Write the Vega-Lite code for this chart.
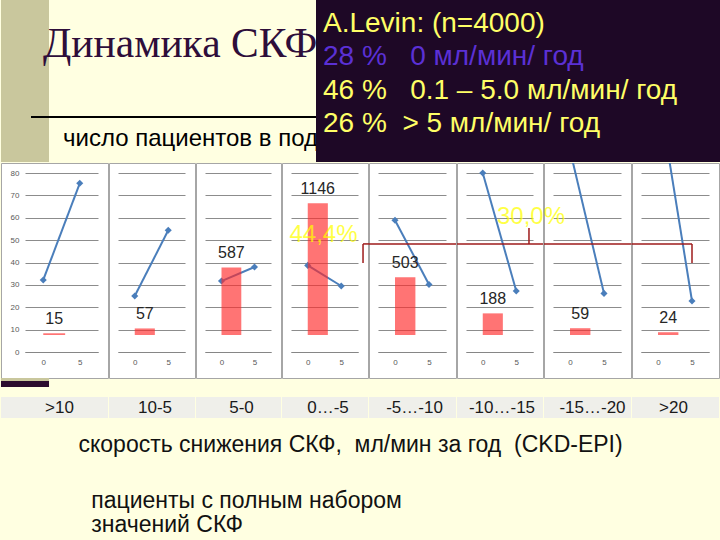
{
  "$schema": "https://vega.github.io/schema/vega-lite/v6.json",
  "background": "#FFFFE1",
  "padding": {"left": 0, "top": 0, "right": 0, "bottom": 5},
  "autosize": {"type": "pad"},
  "config": {
    "font": "Liberation Sans",
    "view": {"stroke": null},
    "axis": {"labelFont": "Liberation Sans", "titleFont": "Liberation Sans"}
  },
  "datasets": {
    "gfr": [
      {"cat": ">10", "year": 0, "gfr": 32.2}, {"cat": ">10", "year": 5, "gfr": 75.4},
      {"cat": "10-5", "year": 0, "gfr": 25.0}, {"cat": "10-5", "year": 5, "gfr": 54.4},
      {"cat": "5-0", "year": 0, "gfr": 31.7}, {"cat": "5-0", "year": 5, "gfr": 38.0},
      {"cat": "0…-5", "year": 0, "gfr": 38.7}, {"cat": "0…-5", "year": 5, "gfr": 29.5},
      {"cat": "-5…-10", "year": 0, "gfr": 58.9}, {"cat": "-5…-10", "year": 5, "gfr": 30.2},
      {"cat": "-10…-15", "year": 0, "gfr": 80.0}, {"cat": "-10…-15", "year": 5, "gfr": 27.3},
      {"cat": "-15…-20", "year": 0, "gfr": 90.2}, {"cat": "-15…-20", "year": 5, "gfr": 26.2},
      {"cat": ">20", "year": 0, "gfr": 117}, {"cat": ">20", "year": 5, "gfr": 22.8}
    ],
    "patients": [
      {"cat": ">10", "n": 15}, {"cat": "10-5", "n": 57}, {"cat": "5-0", "n": 587}, {"cat": "0…-5", "n": 1146},
      {"cat": "-5…-10", "n": 503}, {"cat": "-10…-15", "n": 188}, {"cat": "-15…-20", "n": 59}, {"cat": ">20", "n": 24}
    ],
    "shares": [
      {"group": "0…-5", "share": "44,4%"},
      {"group": "-5…-10 … >20", "share": "30,0%"}
    ],
    "levin": [
      {"study": "A.Levin", "line": "A.Levin: (n=4000)", "kind": "header"},
      {"study": "A.Levin", "line": "28 %\u00a0\u00a0 0 мл/мин/ год", "kind": "stable"},
      {"study": "A.Levin", "line": "46 %\u00a0\u00a0 0.1 – 5.0 мл/мин/ год", "kind": "slow"},
      {"study": "A.Levin", "line": "26 %\u00a0 > 5 мл/мин/ год", "kind": "fast"}
    ]
  },
  "spacing": 0,
  "bounds": "full",
  "vconcat": [
    {
      "spacing": 0,
      "bounds": "flush",
      "hconcat": [
        {
          "width": 315,
          "height": 162,
          "view": {
            "stroke": null,
            "fill": {"gradient": "linear", "x1": 0, "y1": 0, "x2": 1, "y2": 0,
              "stops": [
                {"offset": 0, "color": "#C9C79D"}, {"offset": 0.1524, "color": "#C9C79D"},
                {"offset": 0.1524, "color": "#FFFFE1"}, {"offset": 1, "color": "#FFFFE1"}
              ]}
          },
          "title": {
            "text": "Динамика СКФ",
            "subtitle": "\u200b\u00a0\u00a0\u00a0число пациентов в под",
            "orient": "top", "anchor": "start", "frame": "group",
            "offset": -150.8, "dx": 42,
            "font": "Liberation Serif", "fontSize": 41.5, "fontWeight": "normal", "color": "#2E0E3A",
            "subtitleFont": "Liberation Sans", "subtitleFontSize": 24, "subtitleColor": "#000000", "subtitlePadding": 61
          },
          "data": {"values": [{"underline": "title rule"}]},
          "mark": {"type": "rule", "color": "#000000", "strokeWidth": 2, "strokeDash": [285, 400]},
          "encoding": {
            "y": {"datum": 0.2778, "scale": {"domain": [0, 1], "nice": false, "zero": false}, "axis": null}
          }
        },
        {
          "width": 405,
          "height": 162,
          "view": {"stroke": null, "fill": "#1E0826"},
          "data": {"name": "levin"},
          "mark": {"type": "text", "align": "left", "baseline": "alphabetic", "font": "Liberation Sans", "fontSize": 28, "dx": 7},
          "encoding": {
            "x": {"field": "study", "type": "nominal", "scale": {"type": "point", "padding": 0, "align": 0}, "axis": null},
            "y": {"field": "line", "type": "nominal", "sort": null, "scale": {"type": "point", "padding": 0.918, "align": 0.52}, "axis": null},
            "text": {"field": "line"},
            "color": {"field": "kind", "type": "nominal", "scale": {"domain": ["header", "stable", "slow", "fast"], "range": ["#FFFF66", "#5B30D5", "#FFFF66", "#FFFF66"]}, "legend": null}
          }
        }
      ]
    },
    {
      "spacing": 1,
      "bounds": "flush",
      "title": {
        "text": "скорость снижения СКФ,\u00a0 мл/мин за год\u00a0 (CKD-EPI)",
        "subtitle": ["\u200b\u00a0\u00a0пациенты с полным набором", "\u200b\u00a0\u00a0значений СКФ"],
        "orient": "bottom", "anchor": "start", "frame": "bounds",
        "dx": 78, "offset": 15,
        "font": "Liberation Sans", "fontSize": 23, "fontWeight": "normal", "color": "#111111",
        "subtitleFont": "Liberation Sans", "subtitleFontSize": 23, "subtitleColor": "#111111",
        "subtitlePadding": 33, "subtitleLineHeight": 24
      },
      "hconcat": [
        {
          "width": 107, "height": 215,
          "view": {"fill": "#FFFFFF", "stroke": "#A6A6A6", "strokeWidth": 1},
          "resolve": {"scale": {"y": "independent"}},
          "layer": [
            {
              "data": {"name": "patients"}, "transform": [{"filter": "datum.cat === '>10'"}],
              "layer": [
                {"mark": {"type": "rect", "color": "#EFEFEA"}, "encoding": {"y": {"datum": -20.1, "scale": {"domain": [0, 80], "range": [189, 10], "nice": false, "zero": false}, "axis": null}, "y2": {"datum": -29.5}}},
                {"mark": {"type": "text", "fontSize": 17, "color": "#1A1A1A", "baseline": "middle", "dx": 5}, "encoding": {"y": {"datum": -25.25, "scale": {"domain": [0, 80], "range": [189, 10], "nice": false, "zero": false}, "axis": null}, "text": {"field": "cat"}}},
                {"mark": {"type": "rect", "color": "#C9C79D"}, "encoding": {"x": {"datum": -5.79}, "x2": {"datum": 0.79}, "y": {"datum": -11.6, "scale": {"domain": [0, 80], "range": [189, 10], "nice": false, "zero": false}, "axis": null}, "y2": {"datum": -13.0}}},
                {"mark": {"type": "rect", "color": "#2B0B2E"}, "encoding": {"x": {"datum": -5.79}, "x2": {"datum": 0.79}, "y": {"datum": -13.0, "scale": {"domain": [0, 80], "range": [189, 10], "nice": false, "zero": false}, "axis": null}, "y2": {"datum": -15.6}}}
              ]
            },
            {
              "data": {"name": "gfr"}, "transform": [{"filter": "datum.cat === '>10'"}],
              "mark": {"type": "line", "color": "#4A7EBB", "strokeWidth": 2, "clip": true, "point": {"shape": "diamond", "size": 50, "filled": true, "color": "#4A7EBB"}},
              "encoding": {
                "x": {"field": "year", "type": "quantitative", "scale": {"domain": [-2.5, 7.5], "range": [24, 97], "nice": false, "zero": false},
                  "axis": {"values": [0, 5], "format": "d", "offset": -26, "domainColor": "#868686", "ticks": false, "labelFontSize": 8, "labelColor": "#595959", "labelPadding": 6, "title": null, "grid": false, "labelFlush": false, "labelOverlap": false}},
                "y": {"field": "gfr", "type": "quantitative", "scale": {"domain": [0, 80], "range": [189, 10], "nice": false, "zero": false},
                  "axis": {"values": [0, 10, 20, 30, 40, 50, 60, 70, 80], "grid": true, "gridColor": "#8C8C8C", "gridWidth": 1, "domain": false, "ticks": false, "labels": true, "labelFontSize": 8, "labelColor": "#595959", "offset": -21, "labelPadding": 3, "title": null}}
              }
            },
            {
              "data": {"name": "patients"}, "transform": [{"filter": "datum.cat === '>10'"}],
              "layer": [
                {"mark": {"type": "rect", "color": "#FF2A2A", "opacity": 0.65}, "encoding": {"x": {"datum": 0}, "x2": {"datum": 3}, "y": {"field": "n", "type": "quantitative", "scale": {"domain": [0, 1200], "range": [172, 34], "nice": false, "zero": false}, "axis": null}, "y2": {"datum": 0}}},
                {"mark": {"type": "text", "fontSize": 16, "color": "#262626", "baseline": "alphabetic", "dy": -9}, "encoding": {"x": {"datum": 1.5}, "y": {"field": "n", "type": "quantitative", "scale": {"domain": [0, 1200], "range": [172, 34], "nice": false, "zero": false}, "axis": null}, "text": {"field": "n", "type": "quantitative", "format": "d"}}}
              ]
            }
          ]
        },
        {
          "width": 86, "height": 215,
          "view": {"fill": "#FFFFFF", "stroke": "#A6A6A6", "strokeWidth": 1},
          "resolve": {"scale": {"y": "independent"}},
          "layer": [
            {
              "data": {"name": "patients"}, "transform": [{"filter": "datum.cat === '10-5'"}],
              "layer": [
                {"mark": {"type": "rect", "color": "#EFEFEA"}, "encoding": {"y": {"datum": -20.1, "scale": {"domain": [0, 80], "range": [189, 10], "nice": false, "zero": false}, "axis": null}, "y2": {"datum": -29.5}}},
                {"mark": {"type": "text", "fontSize": 17, "color": "#1A1A1A", "baseline": "middle", "dx": 3}, "encoding": {"y": {"datum": -25.25, "scale": {"domain": [0, 80], "range": [189, 10], "nice": false, "zero": false}, "axis": null}, "text": {"field": "cat"}}}
              ]
            },
            {
              "data": {"name": "gfr"}, "transform": [{"filter": "datum.cat === '10-5'"}],
              "mark": {"type": "line", "color": "#4A7EBB", "strokeWidth": 2, "clip": true, "point": {"shape": "diamond", "size": 50, "filled": true, "color": "#4A7EBB"}},
              "encoding": {
                "x": {"field": "year", "type": "quantitative", "scale": {"domain": [-2.5, 7.5], "range": [9, 76], "nice": false, "zero": false},
                  "axis": {"values": [0, 5], "format": "d", "offset": -26, "domainColor": "#868686", "ticks": false, "labelFontSize": 8, "labelColor": "#595959", "labelPadding": 6, "title": null, "grid": false, "labelFlush": false, "labelOverlap": false}},
                "y": {"field": "gfr", "type": "quantitative", "scale": {"domain": [0, 80], "range": [189, 10], "nice": false, "zero": false},
                  "axis": {"values": [0, 10, 20, 30, 40, 50, 60, 70, 80], "grid": true, "gridColor": "#8C8C8C", "gridWidth": 1, "domain": false, "ticks": false, "labels": false, "title": null}}
              }
            },
            {
              "data": {"name": "patients"}, "transform": [{"filter": "datum.cat === '10-5'"}],
              "layer": [
                {"mark": {"type": "rect", "color": "#FF2A2A", "opacity": 0.65}, "encoding": {"x": {"datum": 0}, "x2": {"datum": 3}, "y": {"field": "n", "type": "quantitative", "scale": {"domain": [0, 1200], "range": [172, 34], "nice": false, "zero": false}, "axis": null}, "y2": {"datum": 0}}},
                {"mark": {"type": "text", "fontSize": 16, "color": "#262626", "baseline": "alphabetic", "dy": -9}, "encoding": {"x": {"datum": 1.5}, "y": {"field": "n", "type": "quantitative", "scale": {"domain": [0, 1200], "range": [172, 34], "nice": false, "zero": false}, "axis": null}, "text": {"field": "n", "type": "quantitative", "format": "d"}}}
              ]
            }
          ]
        },
        {
          "width": 85, "height": 215,
          "view": {"fill": "#FFFFFF", "stroke": "#A6A6A6", "strokeWidth": 1},
          "resolve": {"scale": {"y": "independent"}},
          "layer": [
            {
              "data": {"name": "patients"}, "transform": [{"filter": "datum.cat === '5-0'"}],
              "layer": [
                {"mark": {"type": "rect", "color": "#EFEFEA"}, "encoding": {"y": {"datum": -20.1, "scale": {"domain": [0, 80], "range": [189, 10], "nice": false, "zero": false}, "axis": null}, "y2": {"datum": -29.5}}},
                {"mark": {"type": "text", "fontSize": 17, "color": "#1A1A1A", "baseline": "middle", "dx": 3}, "encoding": {"y": {"datum": -25.25, "scale": {"domain": [0, 80], "range": [189, 10], "nice": false, "zero": false}, "axis": null}, "text": {"field": "cat"}}}
              ]
            },
            {
              "data": {"name": "gfr"}, "transform": [{"filter": "datum.cat === '5-0'"}],
              "mark": {"type": "line", "color": "#4A7EBB", "strokeWidth": 2, "clip": true, "point": {"shape": "diamond", "size": 50, "filled": true, "color": "#4A7EBB"}},
              "encoding": {
                "x": {"field": "year", "type": "quantitative", "scale": {"domain": [-2.5, 7.5], "range": [9, 75], "nice": false, "zero": false},
                  "axis": {"values": [0, 5], "format": "d", "offset": -26, "domainColor": "#868686", "ticks": false, "labelFontSize": 8, "labelColor": "#595959", "labelPadding": 6, "title": null, "grid": false, "labelFlush": false, "labelOverlap": false}},
                "y": {"field": "gfr", "type": "quantitative", "scale": {"domain": [0, 80], "range": [189, 10], "nice": false, "zero": false},
                  "axis": {"values": [0, 10, 20, 30, 40, 50, 60, 70, 80], "grid": true, "gridColor": "#8C8C8C", "gridWidth": 1, "domain": false, "ticks": false, "labels": false, "title": null}}
              }
            },
            {
              "data": {"name": "patients"}, "transform": [{"filter": "datum.cat === '5-0'"}],
              "layer": [
                {"mark": {"type": "rect", "color": "#FF2A2A", "opacity": 0.65}, "encoding": {"x": {"datum": 0}, "x2": {"datum": 3}, "y": {"field": "n", "type": "quantitative", "scale": {"domain": [0, 1200], "range": [172, 34], "nice": false, "zero": false}, "axis": null}, "y2": {"datum": 0}}},
                {"mark": {"type": "text", "fontSize": 16, "color": "#262626", "baseline": "alphabetic", "dy": -9}, "encoding": {"x": {"datum": 1.5}, "y": {"field": "n", "type": "quantitative", "scale": {"domain": [0, 1200], "range": [172, 34], "nice": false, "zero": false}, "axis": null}, "text": {"field": "n", "type": "quantitative", "format": "d"}}}
              ]
            }
          ]
        },
        {
          "width": 86, "height": 215,
          "view": {"fill": "#FFFFFF", "stroke": "#A6A6A6", "strokeWidth": 1},
          "resolve": {"scale": {"y": "independent"}},
          "layer": [
            {
              "data": {"name": "patients"}, "transform": [{"filter": "datum.cat === '0…-5'"}],
              "layer": [
                {"mark": {"type": "rect", "color": "#EFEFEA"}, "encoding": {"y": {"datum": -20.1, "scale": {"domain": [0, 80], "range": [189, 10], "nice": false, "zero": false}, "axis": null}, "y2": {"datum": -29.5}}},
                {"mark": {"type": "text", "fontSize": 17, "color": "#1A1A1A", "baseline": "middle", "dx": 3}, "encoding": {"y": {"datum": -25.25, "scale": {"domain": [0, 80], "range": [189, 10], "nice": false, "zero": false}, "axis": null}, "text": {"field": "cat"}}}
              ]
            },
            {
              "data": {"name": "gfr"}, "transform": [{"filter": "datum.cat === '0…-5'"}],
              "mark": {"type": "line", "color": "#4A7EBB", "strokeWidth": 2, "clip": true, "point": {"shape": "diamond", "size": 50, "filled": true, "color": "#4A7EBB"}},
              "encoding": {
                "x": {"field": "year", "type": "quantitative", "scale": {"domain": [-2.5, 7.5], "range": [9, 76], "nice": false, "zero": false},
                  "axis": {"values": [0, 5], "format": "d", "offset": -26, "domainColor": "#868686", "ticks": false, "labelFontSize": 8, "labelColor": "#595959", "labelPadding": 6, "title": null, "grid": false, "labelFlush": false, "labelOverlap": false}},
                "y": {"field": "gfr", "type": "quantitative", "scale": {"domain": [0, 80], "range": [189, 10], "nice": false, "zero": false},
                  "axis": {"values": [0, 10, 20, 30, 40, 50, 60, 70, 80], "grid": true, "gridColor": "#8C8C8C", "gridWidth": 1, "domain": false, "ticks": false, "labels": false, "title": null}}
              }
            },
            {
              "data": {"name": "patients"}, "transform": [{"filter": "datum.cat === '0…-5'"}],
              "layer": [
                {"mark": {"type": "rect", "color": "#FF2A2A", "opacity": 0.65}, "encoding": {"x": {"datum": 0}, "x2": {"datum": 3}, "y": {"field": "n", "type": "quantitative", "scale": {"domain": [0, 1200], "range": [172, 34], "nice": false, "zero": false}, "axis": null}, "y2": {"datum": 0}}},
                {"mark": {"type": "text", "fontSize": 16, "color": "#262626", "baseline": "alphabetic", "dy": -9}, "encoding": {"x": {"datum": 1.5}, "y": {"field": "n", "type": "quantitative", "scale": {"domain": [0, 1200], "range": [172, 34], "nice": false, "zero": false}, "axis": null}, "text": {"field": "n", "type": "quantitative", "format": "d"}}}
              ]
            },
            {
              "data": {"name": "shares"}, "transform": [{"filter": "datum.group === '0…-5'"}],
              "mark": {"type": "text", "fontSize": 24, "color": "#FFFF00", "opacity": 0.72, "baseline": "middle"},
              "encoding": {"x": {"datum": 2.35}, "y": {"datum": 52.5, "scale": {"domain": [0, 80], "range": [189, 10], "nice": false, "zero": false}, "axis": null}, "text": {"field": "share"}}
            },
            {
              "data": {"name": "shares"}, "transform": [{"filter": "datum.group !== '0…-5'"}],
              "layer": [
                {"mark": {"type": "rule", "color": "#9E1B1B", "strokeWidth": 1.5}, "encoding": {"x": {"datum": 8.25}, "x2": {"datum": 9.3}, "y": {"datum": 48.3, "scale": {"domain": [0, 80], "range": [189, 10], "nice": false, "zero": false}, "axis": null}}},
                {"mark": {"type": "rule", "color": "#9E1B1B", "strokeWidth": 1.5}, "encoding": {"x": {"datum": 8.25}, "y": {"datum": 48.3, "scale": {"domain": [0, 80], "range": [189, 10], "nice": false, "zero": false}, "axis": null}, "y2": {"datum": 39.8}}}
              ]
            }
          ]
        },
        {
          "width": 87, "height": 215,
          "view": {"fill": "#FFFFFF", "stroke": "#A6A6A6", "strokeWidth": 1},
          "resolve": {"scale": {"y": "independent"}},
          "layer": [
            {
              "data": {"name": "patients"}, "transform": [{"filter": "datum.cat === '-5…-10'"}],
              "layer": [
                {"mark": {"type": "rect", "color": "#EFEFEA"}, "encoding": {"y": {"datum": -20.1, "scale": {"domain": [0, 80], "range": [189, 10], "nice": false, "zero": false}, "axis": null}, "y2": {"datum": -29.5}}},
                {"mark": {"type": "text", "fontSize": 17, "color": "#1A1A1A", "baseline": "middle", "dx": 2}, "encoding": {"y": {"datum": -25.25, "scale": {"domain": [0, 80], "range": [189, 10], "nice": false, "zero": false}, "axis": null}, "text": {"field": "cat"}}}
              ]
            },
            {
              "data": {"name": "gfr"}, "transform": [{"filter": "datum.cat === '-5…-10'"}],
              "mark": {"type": "line", "color": "#4A7EBB", "strokeWidth": 2, "clip": true, "point": {"shape": "diamond", "size": 50, "filled": true, "color": "#4A7EBB"}},
              "encoding": {
                "x": {"field": "year", "type": "quantitative", "scale": {"domain": [-2.5, 7.5], "range": [9, 77], "nice": false, "zero": false},
                  "axis": {"values": [0, 5], "format": "d", "offset": -26, "domainColor": "#868686", "ticks": false, "labelFontSize": 8, "labelColor": "#595959", "labelPadding": 6, "title": null, "grid": false, "labelFlush": false, "labelOverlap": false}},
                "y": {"field": "gfr", "type": "quantitative", "scale": {"domain": [0, 80], "range": [189, 10], "nice": false, "zero": false},
                  "axis": {"values": [0, 10, 20, 30, 40, 50, 60, 70, 80], "grid": true, "gridColor": "#8C8C8C", "gridWidth": 1, "domain": false, "ticks": false, "labels": false, "title": null}}
              }
            },
            {
              "data": {"name": "patients"}, "transform": [{"filter": "datum.cat === '-5…-10'"}],
              "layer": [
                {"mark": {"type": "rect", "color": "#FF2A2A", "opacity": 0.65}, "encoding": {"x": {"datum": 0}, "x2": {"datum": 3}, "y": {"field": "n", "type": "quantitative", "scale": {"domain": [0, 1200], "range": [172, 34], "nice": false, "zero": false}, "axis": null}, "y2": {"datum": 0}}},
                {"mark": {"type": "text", "fontSize": 16, "color": "#262626", "baseline": "alphabetic", "dy": -9}, "encoding": {"x": {"datum": 1.5}, "y": {"field": "n", "type": "quantitative", "scale": {"domain": [0, 1200], "range": [172, 34], "nice": false, "zero": false}, "axis": null}, "text": {"field": "n", "type": "quantitative", "format": "d"}}}
              ]
            },
            {
              "data": {"name": "shares"}, "transform": [{"filter": "datum.group !== '0…-5'"}],
              "mark": {"type": "rule", "color": "#9E1B1B", "strokeWidth": 1.5},
              "encoding": {"y": {"datum": 48.3, "scale": {"domain": [0, 80], "range": [189, 10], "nice": false, "zero": false}, "axis": null}}
            }
          ]
        },
        {
          "width": 86, "height": 215,
          "view": {"fill": "#FFFFFF", "stroke": "#A6A6A6", "strokeWidth": 1},
          "resolve": {"scale": {"y": "independent"}},
          "layer": [
            {
              "data": {"name": "patients"}, "transform": [{"filter": "datum.cat === '-10…-15'"}],
              "layer": [
                {"mark": {"type": "rect", "color": "#EFEFEA"}, "encoding": {"y": {"datum": -20.1, "scale": {"domain": [0, 80], "range": [189, 10], "nice": false, "zero": false}, "axis": null}, "y2": {"datum": -29.5}}},
                {"mark": {"type": "text", "fontSize": 17, "color": "#1A1A1A", "baseline": "middle", "dx": 2}, "encoding": {"y": {"datum": -25.25, "scale": {"domain": [0, 80], "range": [189, 10], "nice": false, "zero": false}, "axis": null}, "text": {"field": "cat"}}}
              ]
            },
            {
              "data": {"name": "gfr"}, "transform": [{"filter": "datum.cat === '-10…-15'"}],
              "mark": {"type": "line", "color": "#4A7EBB", "strokeWidth": 2, "clip": true, "point": {"shape": "diamond", "size": 50, "filled": true, "color": "#4A7EBB"}},
              "encoding": {
                "x": {"field": "year", "type": "quantitative", "scale": {"domain": [-2.5, 7.5], "range": [9, 76], "nice": false, "zero": false},
                  "axis": {"values": [0, 5], "format": "d", "offset": -26, "domainColor": "#868686", "ticks": false, "labelFontSize": 8, "labelColor": "#595959", "labelPadding": 6, "title": null, "grid": false, "labelFlush": false, "labelOverlap": false}},
                "y": {"field": "gfr", "type": "quantitative", "scale": {"domain": [0, 80], "range": [189, 10], "nice": false, "zero": false},
                  "axis": {"values": [0, 10, 20, 30, 40, 50, 60, 70, 80], "grid": true, "gridColor": "#8C8C8C", "gridWidth": 1, "domain": false, "ticks": false, "labels": false, "title": null}}
              }
            },
            {
              "data": {"name": "patients"}, "transform": [{"filter": "datum.cat === '-10…-15'"}],
              "layer": [
                {"mark": {"type": "rect", "color": "#FF2A2A", "opacity": 0.65}, "encoding": {"x": {"datum": 0}, "x2": {"datum": 3}, "y": {"field": "n", "type": "quantitative", "scale": {"domain": [0, 1200], "range": [172, 34], "nice": false, "zero": false}, "axis": null}, "y2": {"datum": 0}}},
                {"mark": {"type": "text", "fontSize": 16, "color": "#262626", "baseline": "alphabetic", "dy": -9}, "encoding": {"x": {"datum": 1.5}, "y": {"field": "n", "type": "quantitative", "scale": {"domain": [0, 1200], "range": [172, 34], "nice": false, "zero": false}, "axis": null}, "text": {"field": "n", "type": "quantitative", "format": "d"}}}
              ]
            },
            {
              "data": {"name": "shares"}, "transform": [{"filter": "datum.group !== '0…-5'"}],
              "layer": [
                {"mark": {"type": "rule", "color": "#9E1B1B", "strokeWidth": 1.5}, "encoding": {"y": {"datum": 48.3, "scale": {"domain": [0, 80], "range": [189, 10], "nice": false, "zero": false}, "axis": null}}},
                {"mark": {"type": "rule", "color": "#9E1B1B", "strokeWidth": 1.5}, "encoding": {"x": {"datum": 6.9}, "y": {"datum": 48.3, "scale": {"domain": [0, 80], "range": [189, 10], "nice": false, "zero": false}, "axis": null}, "y2": {"datum": 55.4}}}
              ]
            }
          ]
        },
        {
          "width": 87, "height": 215,
          "view": {"fill": "#FFFFFF", "stroke": "#A6A6A6", "strokeWidth": 1},
          "resolve": {"scale": {"y": "independent"}},
          "layer": [
            {
              "data": {"name": "patients"}, "transform": [{"filter": "datum.cat === '-15…-20'"}],
              "layer": [
                {"mark": {"type": "rect", "color": "#EFEFEA"}, "encoding": {"y": {"datum": -20.1, "scale": {"domain": [0, 80], "range": [189, 10], "nice": false, "zero": false}, "axis": null}, "y2": {"datum": -29.5}}},
                {"mark": {"type": "text", "fontSize": 17, "color": "#1A1A1A", "baseline": "middle", "dx": 5}, "encoding": {"y": {"datum": -25.25, "scale": {"domain": [0, 80], "range": [189, 10], "nice": false, "zero": false}, "axis": null}, "text": {"field": "cat"}}}
              ]
            },
            {
              "data": {"name": "gfr"}, "transform": [{"filter": "datum.cat === '-15…-20'"}],
              "mark": {"type": "line", "color": "#4A7EBB", "strokeWidth": 2, "clip": true, "point": {"shape": "diamond", "size": 50, "filled": true, "color": "#4A7EBB"}},
              "encoding": {
                "x": {"field": "year", "type": "quantitative", "scale": {"domain": [-2.5, 7.5], "range": [9, 77], "nice": false, "zero": false},
                  "axis": {"values": [0, 5], "format": "d", "offset": -26, "domainColor": "#868686", "ticks": false, "labelFontSize": 8, "labelColor": "#595959", "labelPadding": 6, "title": null, "grid": false, "labelFlush": false, "labelOverlap": false}},
                "y": {"field": "gfr", "type": "quantitative", "scale": {"domain": [0, 80], "range": [189, 10], "nice": false, "zero": false},
                  "axis": {"values": [0, 10, 20, 30, 40, 50, 60, 70, 80], "grid": true, "gridColor": "#8C8C8C", "gridWidth": 1, "domain": false, "ticks": false, "labels": false, "title": null}}
              }
            },
            {
              "data": {"name": "patients"}, "transform": [{"filter": "datum.cat === '-15…-20'"}],
              "layer": [
                {"mark": {"type": "rect", "color": "#FF2A2A", "opacity": 0.65}, "encoding": {"x": {"datum": 0}, "x2": {"datum": 3}, "y": {"field": "n", "type": "quantitative", "scale": {"domain": [0, 1200], "range": [172, 34], "nice": false, "zero": false}, "axis": null}, "y2": {"datum": 0}}},
                {"mark": {"type": "text", "fontSize": 16, "color": "#262626", "baseline": "alphabetic", "dy": -9}, "encoding": {"x": {"datum": 1.5}, "y": {"field": "n", "type": "quantitative", "scale": {"domain": [0, 1200], "range": [172, 34], "nice": false, "zero": false}, "axis": null}, "text": {"field": "n", "type": "quantitative", "format": "d"}}}
              ]
            },
            {
              "data": {"name": "shares"}, "transform": [{"filter": "datum.group !== '0…-5'"}],
              "layer": [
                {"mark": {"type": "rule", "color": "#9E1B1B", "strokeWidth": 1.5}, "encoding": {"y": {"datum": 48.3, "scale": {"domain": [0, 80], "range": [189, 10], "nice": false, "zero": false}, "axis": null}}},
                {"mark": {"type": "text", "fontSize": 24, "color": "#FFFF00", "opacity": 0.72, "baseline": "middle"}, "encoding": {"x": {"datum": -5.74}, "y": {"datum": 60.3, "scale": {"domain": [0, 80], "range": [189, 10], "nice": false, "zero": false}, "axis": null}, "text": {"field": "share"}}}
              ]
            }
          ]
        },
        {
          "width": 87, "height": 215,
          "view": {"fill": "#FFFFFF", "stroke": "#A6A6A6", "strokeWidth": 1},
          "resolve": {"scale": {"y": "independent"}},
          "layer": [
            {
              "data": {"name": "patients"}, "transform": [{"filter": "datum.cat === '>20'"}],
              "layer": [
                {"mark": {"type": "rect", "color": "#EFEFEA"}, "encoding": {"y": {"datum": -20.1, "scale": {"domain": [0, 80], "range": [189, 10], "nice": false, "zero": false}, "axis": null}, "y2": {"datum": -29.5}}},
                {"mark": {"type": "text", "fontSize": 17, "color": "#1A1A1A", "baseline": "middle", "dx": -2}, "encoding": {"y": {"datum": -25.25, "scale": {"domain": [0, 80], "range": [189, 10], "nice": false, "zero": false}, "axis": null}, "text": {"field": "cat"}}}
              ]
            },
            {
              "data": {"name": "gfr"}, "transform": [{"filter": "datum.cat === '>20'"}],
              "mark": {"type": "line", "color": "#4A7EBB", "strokeWidth": 2, "clip": true, "point": {"shape": "diamond", "size": 50, "filled": true, "color": "#4A7EBB"}},
              "encoding": {
                "x": {"field": "year", "type": "quantitative", "scale": {"domain": [-2.5, 7.5], "range": [9, 77], "nice": false, "zero": false},
                  "axis": {"values": [0, 5], "format": "d", "offset": -26, "domainColor": "#868686", "ticks": false, "labelFontSize": 8, "labelColor": "#595959", "labelPadding": 6, "title": null, "grid": false, "labelFlush": false, "labelOverlap": false}},
                "y": {"field": "gfr", "type": "quantitative", "scale": {"domain": [0, 80], "range": [189, 10], "nice": false, "zero": false},
                  "axis": {"values": [0, 10, 20, 30, 40, 50, 60, 70, 80], "grid": true, "gridColor": "#8C8C8C", "gridWidth": 1, "domain": false, "ticks": false, "labels": false, "title": null}}
              }
            },
            {
              "data": {"name": "patients"}, "transform": [{"filter": "datum.cat === '>20'"}],
              "layer": [
                {"mark": {"type": "rect", "color": "#FF2A2A", "opacity": 0.65}, "encoding": {"x": {"datum": 0}, "x2": {"datum": 3}, "y": {"field": "n", "type": "quantitative", "scale": {"domain": [0, 1200], "range": [172, 34], "nice": false, "zero": false}, "axis": null}, "y2": {"datum": 0}}},
                {"mark": {"type": "text", "fontSize": 16, "color": "#262626", "baseline": "alphabetic", "dy": -9}, "encoding": {"x": {"datum": 1.5}, "y": {"field": "n", "type": "quantitative", "scale": {"domain": [0, 1200], "range": [172, 34], "nice": false, "zero": false}, "axis": null}, "text": {"field": "n", "type": "quantitative", "format": "d"}}}
              ]
            },
            {
              "data": {"name": "shares"}, "transform": [{"filter": "datum.group !== '0…-5'"}],
              "layer": [
                {"mark": {"type": "rule", "color": "#9E1B1B", "strokeWidth": 1.5}, "encoding": {"x": {"datum": -3.9}, "x2": {"datum": 5.0}, "y": {"datum": 48.3, "scale": {"domain": [0, 80], "range": [189, 10], "nice": false, "zero": false}, "axis": null}}},
                {"mark": {"type": "rule", "color": "#9E1B1B", "strokeWidth": 1.5}, "encoding": {"x": {"datum": 5.0}, "y": {"datum": 48.3, "scale": {"domain": [0, 80], "range": [189, 10], "nice": false, "zero": false}, "axis": null}, "y2": {"datum": 39.8}}}
              ]
            }
          ]
        }
      ]
    }
  ]
}
